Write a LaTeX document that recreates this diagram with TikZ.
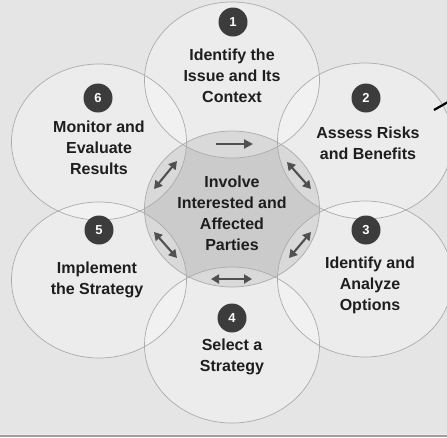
\documentclass[tikz,border=0pt]{standalone}
\usepackage{fontspec}
\setmainfont{Liberation Sans}
\usetikzlibrary{arrows.meta}
\definecolor{bg}{HTML}{E5E5E5}
\definecolor{hub}{HTML}{CBCBCB}
\definecolor{rim}{HTML}{ABABAB}
\definecolor{badgec}{HTML}{3C3C3C}
\definecolor{txt}{HTML}{1E1E1E}
\definecolor{arr}{HTML}{505050}
\tikzset{
  petal/.style={fill=white, fill opacity=0.27},
  rimline/.style={draw=rim, line width=0.7pt},
  lbl/.style={font=\bfseries\fontsize{16}{21}\selectfont, text=txt, align=center, inner sep=0pt},
  badge/.style={circle, fill=badgec, minimum size=29pt, inner sep=0pt, text=white, font=\bfseries\fontsize{13}{13}\selectfont},
  link/.style={draw=arr, line width=2.1pt, -{Triangle[length=9pt,width=9pt]}},
  dlink/.style={draw=arr, line width=2.1pt, {Triangle[length=8pt,width=9pt]}-{Triangle[length=8pt,width=9pt]}}
}
\begin{document}
\begin{tikzpicture}[x=1pt,y=-1pt]
\useasboundingbox (0,0) rectangle (447,437);
\fill[bg] (0,0) rectangle (447,437);
\fill[white!85!gray] (0,433.5) rectangle (447,435);
\fill[gray!75] (0,435) rectangle (447,437);
% hub
\fill[hub] (232,209) ellipse [x radius=87.5, y radius=78];
% petals
\foreach \p in {(232,80),(365,141),(365,279),(232,345),(99,280),(99,142)}
  \fill[petal] \p ellipse [x radius=87.5, y radius=78];
\foreach \p in {(232,209),(232,80),(365,141),(365,279),(232,345),(99,280),(99,142)}
  \draw[rimline] \p ellipse [x radius=87.5, y radius=78];
% stray arrow fragment at right edge
\coordinate (fa) at (434,110);
\coordinate (fb) at (448,102);
\draw[black, line width=2.2pt] (fa) -- (fb);
% badges
\node[badge] (b1) at (233,22) {1};
\node[badge] (b2) at (366,98) {2};
\node[badge] (b3) at (366,230) {3};
\node[badge] (b4) at (232,318) {4};
\node[badge] (b5) at (99,230) {5};
\node[badge] (b6) at (98,98) {6};
% labels
\node[lbl] (t1) at (232,76) {Identify the\\Issue and Its\\Context};
\node[lbl] (t2) at (368,143) {Assess Risks\\and Benefits};
\node[lbl] (t3) at (370,285) {Identify and\\Analyze\\Options};
\node[lbl] (t4) at (232,357) {Select a\\Strategy};
\node[lbl] (t5) at (97,280) {Implement\\the Strategy};
\node[lbl] (t6) at (99,148) {Monitor and\\Evaluate\\Results};
\node[lbl] (t0) at (232,213) {Involve\\Interested and\\Affected\\Parties};
% arrows
\coordinate (a1s) at (216,144); \coordinate (a1e) at (253,144);
\coordinate (a2s) at (287,162); \coordinate (a2e) at (311,189);
\coordinate (a3s) at (289,258); \coordinate (a3e) at (311,232);
\coordinate (a4s) at (211,279); \coordinate (a4e) at (252,279);
\coordinate (a5s) at (154,232); \coordinate (a5e) at (177,258);
\coordinate (a6s) at (154,189); \coordinate (a6e) at (177,161);
\draw[link] (a1s) -- (a1e);
\draw[dlink] (a2s) -- (a2e);
\draw[dlink] (a3s) -- (a3e);
\draw[dlink] (a4s) -- (a4e);
\draw[dlink] (a5s) -- (a5e);
\draw[dlink] (a6s) -- (a6e);
\end{tikzpicture}
\end{document}
